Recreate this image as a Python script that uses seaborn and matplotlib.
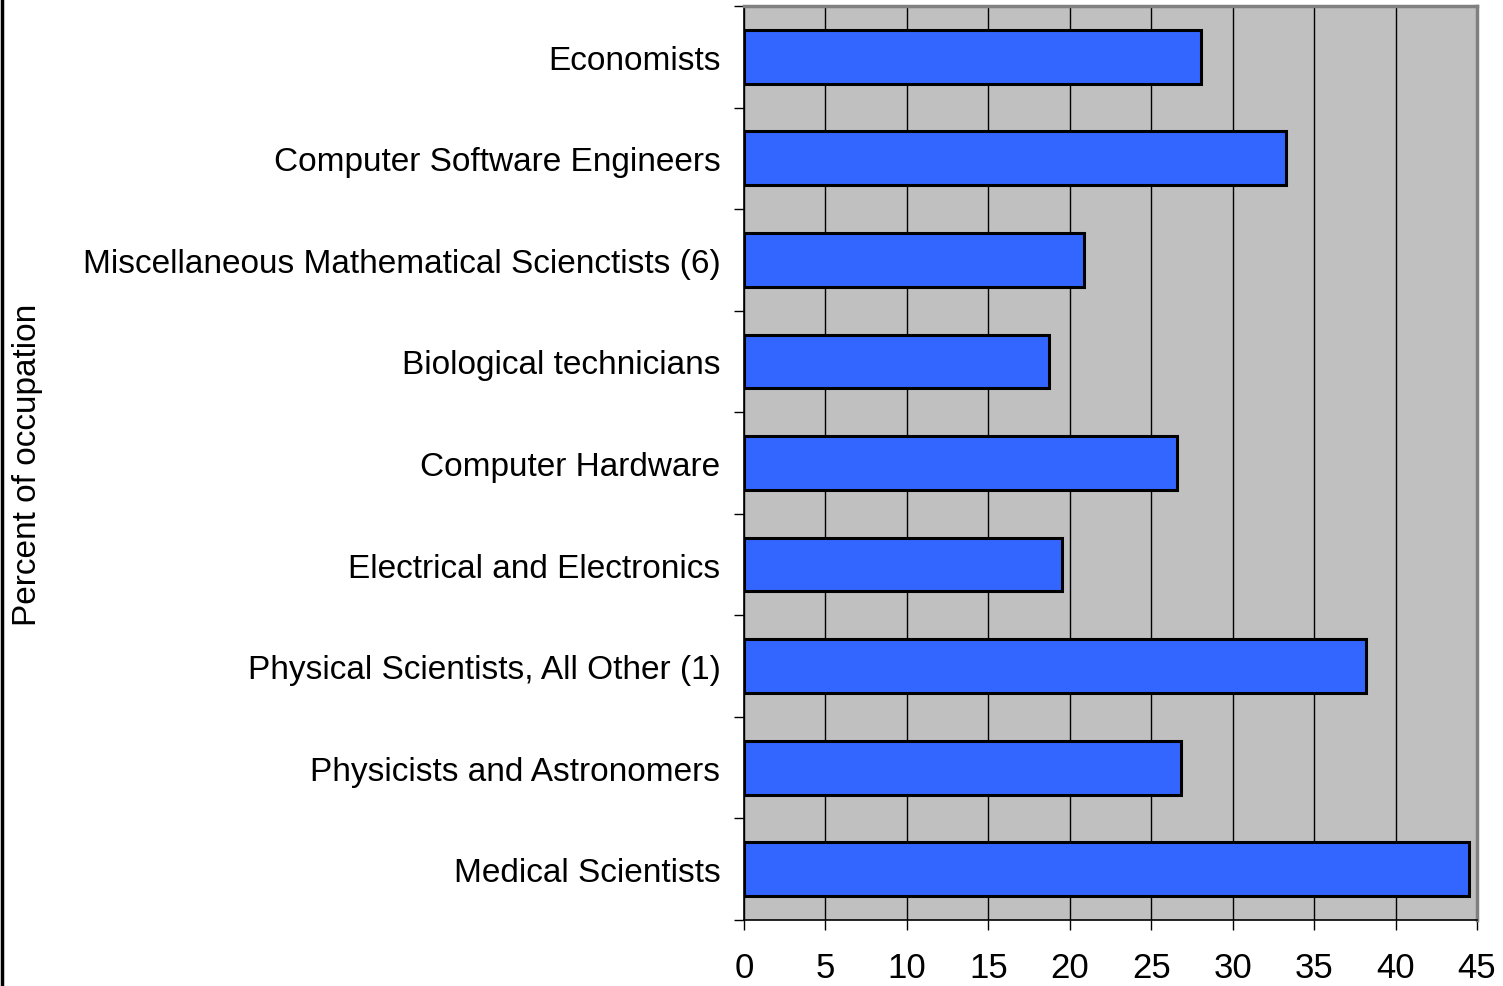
import numpy as np
import pandas as pd
import matplotlib
matplotlib.use('Agg')
import matplotlib.pyplot as plt
import seaborn as sns
from matplotlib.lines import Line2D

occupations = ['Economists', 'Computer Software Engineers',
               'Miscellaneous Mathematical Scienctists (6)', 'Biological technicians',
               'Computer Hardware', 'Electrical and Electronics',
               'Physical Scientists, All Other (1)', 'Physicists and Astronomers',
               'Medical Scientists']
percents = [28.05, 33.3, 20.9, 18.7, 26.6, 19.5, 38.2, 26.8, 44.5]
xticks = [0, 5, 10, 15, 20, 25, 30, 35, 40, 45]

df = pd.DataFrame({'occupation': occupations, 'percent': percents})

sns.set_style('white')
plt.rcParams['font.family'] = ['Liberation Sans', 'DejaVu Sans']

fig = plt.figure(figsize=(15.03, 9.87), dpi=100)
ax = fig.add_axes([744 / 1503, 1 - 921 / 987, (1477 - 744) / 1503, (921 - 7) / 987])
ax.set_facecolor('#c0c0c0')

sns.barplot(data=df, x='percent', y='occupation', color='#3366ff', saturation=1,
            edgecolor='black', linewidth=2.2, width=0.53, ax=ax, zorder=3)

ax.set_xlim(0, 45)
ax.set_ylim(len(occupations) - 0.5, -0.5)
ax.set_xticks(xticks)
ax.xaxis.grid(True, color='black', linewidth=1, zorder=1)
ax.set_axisbelow(True)

ax.set_yticks(np.arange(-0.5, len(occupations)), minor=True)
ax.tick_params(axis='y', which='major', length=0, pad=17, labelsize=24, labelcolor='black')
ax.tick_params(axis='y', which='minor', length=7, width=1, color='black', direction='out', left=True)
ax.tick_params(axis='x', length=7, width=1, color='black', direction='out', bottom=True,
               pad=15, labelsize=25, labelcolor='black')

ax.set_xlabel('')
ax.set_ylabel('')
for side in ['left', 'bottom']:
    ax.spines[side].set_color('black')
    ax.spines[side].set_linewidth(1.2)
for side in ['top', 'right']:
    ax.spines[side].set_color('#808080')
    ax.spines[side].set_linewidth(2.5)

fig.text(28 / 1503, 1 - 465 / 987, 'Percent of occupation', rotation=90,
         ha='center', va='center', fontsize=24, color='black')
fig.add_artist(Line2D([0.001, 0.001], [0, 1], color='black', linewidth=2.5,
                      transform=fig.transFigure))

fig.savefig('out.png', dpi=100)
